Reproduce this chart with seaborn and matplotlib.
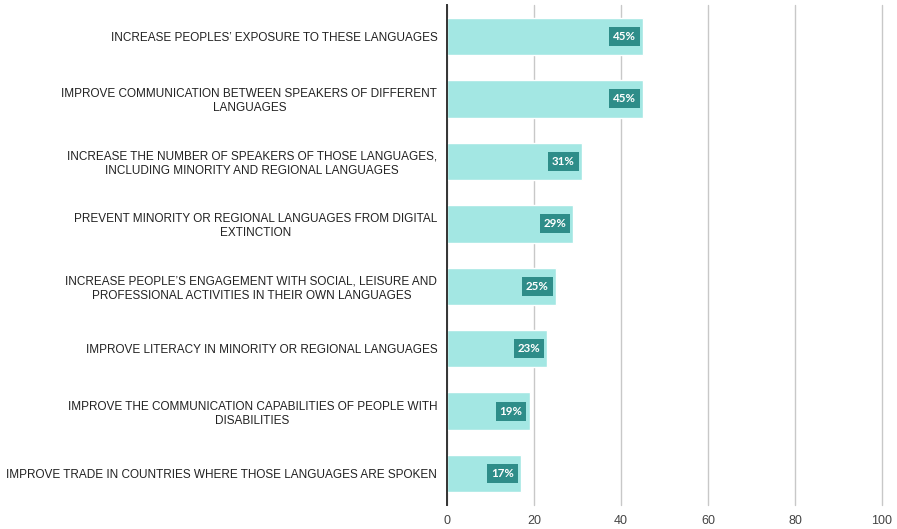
import matplotlib
matplotlib.use("Agg")
import matplotlib.pyplot as plt
import seaborn as sns
import pandas as pd

goals = [
    "INCREASE PEOPLES’ EXPOSURE TO THESE LANGUAGES",
    "IMPROVE COMMUNICATION BETWEEN SPEAKERS OF DIFFERENT\nLANGUAGES",
    "INCREASE THE NUMBER OF SPEAKERS OF THOSE LANGUAGES,\nINCLUDING MINORITY AND REGIONAL LANGUAGES",
    "PREVENT MINORITY OR REGIONAL LANGUAGES FROM DIGITAL\nEXTINCTION",
    "INCREASE PEOPLE’S ENGAGEMENT WITH SOCIAL, LEISURE AND\nPROFESSIONAL ACTIVITIES IN THEIR OWN LANGUAGES",
    "IMPROVE LITERACY IN MINORITY OR REGIONAL LANGUAGES",
    "IMPROVE THE COMMUNICATION CAPABILITIES OF PEOPLE WITH\nDISABILITIES",
    "IMPROVE TRADE IN COUNTRIES WHERE THOSE LANGUAGES ARE SPOKEN",
]
shares = [45, 45, 31, 29, 25, 23, 19, 17]
x_ticks = [0, 20, 40, 60, 80, 100]

df = pd.DataFrame({"goal": goals, "share": shares})

sns.set_theme(style="white")
plt.rcParams["font.family"] = ["Liberation Sans", "DejaVu Sans"]

fig = plt.figure(figsize=(8.97, 5.29), dpi=100)
ax = fig.add_axes([0.4983, 0.0454, 0.4850, 0.9451])

sns.barplot(data=df, x="share", y="goal", color="#a3e7e3", saturation=1,
            width=0.6, ax=ax, zorder=2)

ax.set_xlim(0, 100)
ax.set_ylim(7.5, -0.5)
ax.set_xticks(x_ticks)
ax.set_xticklabels([str(t) for t in x_ticks], fontsize=9, color="#444444")
ax.set_xlabel("")
ax.set_ylabel("")
ax.tick_params(axis="y", length=0, pad=7, labelsize=8.5, labelcolor="#222222")
ax.tick_params(axis="x", length=0, pad=7)
for lbl in ax.get_yticklabels():
    lbl.set_multialignment("center")

ax.grid(axis="x", color="#c8c8c8", linewidth=1.0, zorder=0)
ax.grid(axis="y", visible=False)
for gl in ax.get_xgridlines():
    gl.set_clip_on(False)
for side in ["top", "right", "bottom"]:
    ax.spines[side].set_visible(False)
ax.spines["left"].set_color("#333333")
ax.spines["left"].set_linewidth(1.4)
ax.spines["left"].set_zorder(4)

for i, v in enumerate(shares):
    ax.annotate(f"{v}%", xy=(v, i), xytext=(-5, 0), textcoords="offset points",
                ha="right", va="center", fontsize=8.3, fontweight="bold",
                family=["Lato", "DejaVu Sans"], color="white", zorder=5,
                bbox=dict(boxstyle="square,pad=0.33", fc="#2e8d89", ec="none"))

fig.savefig("out.png", dpi=100, facecolor="white")
